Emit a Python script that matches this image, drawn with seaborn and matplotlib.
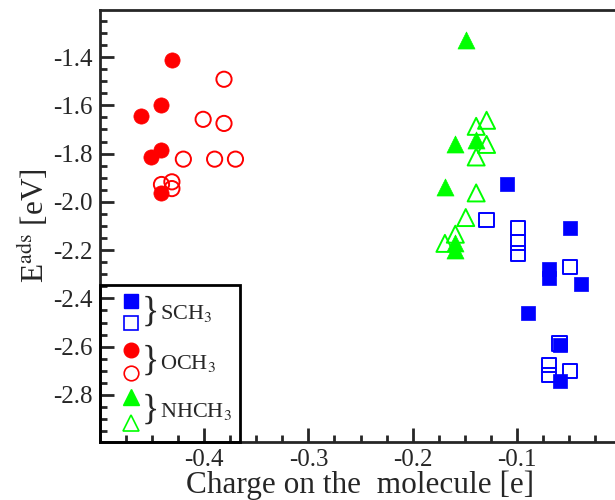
import numpy as np
import pandas as pd
import matplotlib
matplotlib.use("Agg")
import matplotlib.pyplot as plt
import seaborn as sns
from matplotlib.ticker import MultipleLocator
from matplotlib.patches import Rectangle

# ==========================
# DATA
# ==========================

sch3_full_q = [-0.109, -0.049, -0.069, -0.069, -0.038, -0.089, -0.059, -0.059]
sch3_full_e = [-1.927, -2.108, -2.279, -2.316, -2.341, -2.461, -2.595, -2.741]
sch3_open_q = [-0.129, -0.099, -0.099, -0.099, -0.049, -0.059, -0.069, -0.069, -0.049]
sch3_open_e = [-2.076, -2.108, -2.168, -2.214, -2.270, -2.588, -2.676, -2.718, -2.701]

och3_full_q = [-0.431, -0.441, -0.461, -0.441, -0.451, -0.441]
och3_full_e = [-1.413, -1.600, -1.645, -1.786, -1.814, -1.965]
och3_open_q = [-0.381, -0.401, -0.381, -0.420, -0.390, -0.370, -0.441, -0.431, -0.431]
och3_open_e = [-1.492, -1.658, -1.675, -1.823, -1.823, -1.823, -1.928, -1.917, -1.945]

nhch3_full_q = [-0.149, -0.159, -0.139, -0.169, -0.159, -0.159]
nhch3_full_e = [-1.330, -1.762, -1.745, -1.938, -2.170, -2.200]
nhch3_open_q = [-0.129, -0.139, -0.129, -0.139, -0.139, -0.149, -0.159, -0.169]
nhch3_open_e = [-1.662, -1.687, -1.762, -1.814, -1.963, -2.065, -2.134, -2.172]

x_ticks = [-0.4, -0.3, -0.2, -0.1]
y_ticks = [-2.8, -2.6, -2.4, -2.2, -2.0, -1.8, -1.6, -1.4]

# ==========================
# STYLE
# ==========================

sns.set_style("ticks")
SERIF = ['Liberation Serif', 'DejaVu Serif']
plt.rcParams['font.family'] = SERIF
plt.rcParams['mathtext.fontset'] = 'stix'

fig = plt.figure(figsize=(6.15, 5), dpi=100)
ax = fig.add_axes([100/615, 1 - 442/500, 521/615, 432/500])

BLUE = "#0000ff"
RED = "#ff0000"
GREEN = "#00ff00"

series = [
    (sch3_full_q, sch3_full_e, "s", BLUE, True, 110),
    (sch3_open_q, sch3_open_e, "s", BLUE, False, 110),
    (och3_full_q, och3_full_e, "o", RED, True, 120),
    (och3_open_q, och3_open_e, "o", RED, False, 120),
    (nhch3_full_q, nhch3_full_e, "^", GREEN, True, 150),
    (nhch3_open_q, nhch3_open_e, "^", GREEN, False, 150),
]

for q, e, m, c, filled, s in series:
    df = pd.DataFrame({"q": q, "e": e})
    if filled:
        sns.scatterplot(data=df, x="q", y="e", marker=m, s=s, color=c,
                        edgecolor=c, linewidth=0.5, ax=ax, zorder=3)
    else:
        sns.scatterplot(data=df, x="q", y="e", marker=m, s=s,
                        facecolor="none", edgecolor=c, linewidth=1.4,
                        ax=ax, zorder=4)

# ==========================
# AXES
# ==========================

ax.set_xlim(-0.5, 0.0)
ax.set_ylim(-2.995, -1.205)
ax.set_xticks(x_ticks)
ax.set_yticks(y_ticks)
ax.set_xticklabels([f"{v:.1f}" for v in x_ticks], fontfamily=SERIF, fontsize=18)
ax.set_yticklabels([f"{v:.1f}" for v in y_ticks], fontfamily=SERIF, fontsize=18)
ax.xaxis.set_minor_locator(MultipleLocator(0.025))
ax.yaxis.set_minor_locator(MultipleLocator(0.05))
ax.tick_params(which="major", direction="in", length=10, width=2,
               top=False, right=False, pad=5)
ax.tick_params(which="minor", direction="in", length=5, width=2,
               top=False, right=False)
for sp in ax.spines.values():
    sp.set_linewidth(2)

ax.set_xlabel("Charge on the  molecule [e]", fontsize=22.5, labelpad=0,
              fontfamily=SERIF)
ax.set_ylabel(r"E$^{\mathrm{ads}}$ [eV]", fontsize=22.5, labelpad=2,
              fontfamily=SERIF)

# ==========================
# LEGEND (custom box with braces)
# ==========================

def fx(px):
    return (px - 100) / 521

def fy(py):
    return (442 - py) / 432

ax.add_patch(Rectangle((0, 0), fx(240), fy(285), transform=ax.transAxes,
                       fill=False, edgecolor="black", linewidth=2,
                       zorder=5, clip_on=False))

legend_rows = [
    ("s", BLUE, 301, 323, r"SCH$_3$", 10),
    ("o", RED, 350, 373, r"OCH$_3$", 10.5),
    ("^", GREEN, 397, 423, r"NHCH$_3$", 11.5),
]
for m, c, y1, y2, label, ms in legend_rows:
    ax.plot([fx(131)], [fy(y1)], marker=m, ms=ms, color=c, mec=c,
            transform=ax.transAxes, zorder=6, clip_on=False)
    ax.plot([fx(131)], [fy(y2)], marker=m, ms=ms, mfc="none", mec=c,
            mew=1.2, transform=ax.transAxes, zorder=6, clip_on=False)
    ym = (y1 + y2) / 2
    ax.text(fx(150), fy(ym), "}", fontsize=26, ha="center", va="center",
            transform=ax.transAxes, zorder=6)
    ax.text(fx(160), fy(ym + 2), label, fontsize=16, ha="left", va="center",
            transform=ax.transAxes, zorder=6)

fig.savefig("out.png", dpi=100)
